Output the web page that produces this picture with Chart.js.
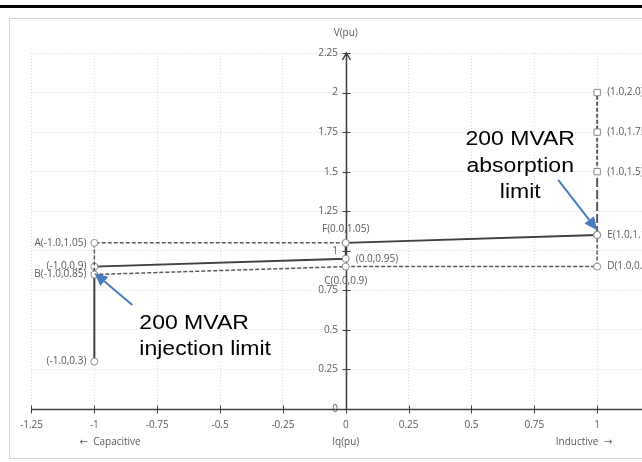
<!DOCTYPE html>
<html>
<head>
<meta charset="utf-8">
<script src="https://cdn.jsdelivr.net/npm/chart.js@4/dist/chart.umd.min.js"></script>
<style>
    html, body { margin: 0; padding: 0; background: #fff; overflow: hidden; width: 642px; height: 462px; }
    .rule { position: absolute; left: 0; top: 5px; width: 642px; height: 3px; background: #000; }
    .box { position: absolute; left: 9px; top: 18px; width: 700px; height: 441px; border: 1px solid #d4d4d4; box-sizing: border-box; }
    canvas { display: block; }
</style>
</head>
<body>
<div class="rule"></div>
<div class="box"><canvas id="pq" width="698" height="439" style="width:698px;height:439px"></canvas></div>
<script>
// operating characteristic
const iqSolid = [-1, -1, 0, 0, 1];
const vSolid = [0.3, 0.9, 0.95, 1.05, 1.1];

// dashed band  F -> A -> B -> C -> D -> E
const iqBand = [0, -1, -1, 0, 1, 1];
const vBand = [1.05, 1.05, 0.85, 0.9, 0.9, 1.1];

// absorption limit extension
const iqLimit = [1, 1, 1, 1];
const vLimit = [1.1, 1.5, 1.75, 2.0];

const xTicks = [-1.25, -1, -0.75, -0.5, -0.25, 0, 0.25, 0.5, 0.75, 1, 1.25];
const yTicks = [0, 0.25, 0.5, 0.75, 1, 1.25, 1.5, 1.75, 2, 2.25];

// point labels
const labelText = ['A(-1.0,1.05)', '(-1.0,0.9)', 'B(-1.0,0.85)', '(-1.0,0.3)', 'F(0.0,1.05)', '(0.0,0.95)', 'C(0.0,0.9)',
    '(1.0,2.0)', '(1.0,1.75)', '(1.0,1.5)', 'E(1.0,1.1)', 'D(1.0,0.9)'];
const labelIq = [-1, -1, -1, -1, 0, 0, 0, 1, 1, 1, 1, 1];
const labelV = [1.05, 0.9, 0.85, 0.3, 1.05, 0.95, 0.9, 2.0, 1.75, 1.5, 1.1, 0.9];
const labelSide = ['left', 'left', 'left', 'left', 'above', 'right', 'below', 'right', 'right', 'right', 'right', 'right'];

const toPts = (xs, ys) => xs.map((x, i) => ({ x: x, y: ys[i] }));

const GRAY_TXT = '#595959';
const AXIS = '#404040';
const SMALL = '10px "Open Sans"';

function arrow(ctx, x0, y0, x1, y1) {
    const a = Math.atan2(y1 - y0, x1 - x0), L = 13, W = 6;
    const bx = x1 - L * Math.cos(a), by = y1 - L * Math.sin(a);
    ctx.strokeStyle = '#4a7bbf';
    ctx.fillStyle = '#4a7bbf';
    ctx.lineWidth = 2;
    ctx.beginPath(); ctx.moveTo(x0, y0); ctx.lineTo(bx, by); ctx.stroke();
    ctx.beginPath();
    ctx.moveTo(x1, y1);
    ctx.lineTo(bx + W * Math.sin(a), by - W * Math.cos(a));
    ctx.lineTo(bx - W * Math.sin(a), by + W * Math.cos(a));
    ctx.closePath(); ctx.fill();
}

function wideText(ctx, s, x, y, align) {
    ctx.save();
    ctx.translate(x, y);
    ctx.scale(1.15, 1);
    ctx.textAlign = align;
    ctx.fillText(s, 0, 0);
    ctx.restore();
}

const decorations = {
    id: 'decorations',
    beforeDatasetsDraw(chart) {
        // solid axis lines with tick marks crossing them
        const ctx = chart.ctx;
        const xs = chart.scales.x, ys = chart.scales.y;
        const area = chart.chartArea;
        const ax = Math.round(xs.getPixelForValue(0)) + 0.5;
        const ay = Math.round(ys.getPixelForValue(0)) + 0.5;
        ctx.save();
        ctx.strokeStyle = AXIS;
        ctx.lineWidth = 1.5;
        ctx.beginPath();
        ctx.moveTo(area.left, ay); ctx.lineTo(area.right, ay);
        ctx.moveTo(ax, area.bottom); ctx.lineTo(ax, area.top);
        ctx.stroke();
        ctx.lineWidth = 1;
        ctx.beginPath();
        xTicks.forEach(v => { const p = Math.round(xs.getPixelForValue(v)) + 0.5; ctx.moveTo(p, ay - 4); ctx.lineTo(p, ay + 4); });
        yTicks.forEach(v => { const p = Math.round(ys.getPixelForValue(v)) + 0.5; ctx.moveTo(ax - 4, p); ctx.lineTo(ax + 4, p); });
        ctx.stroke();
        // arrow head on V axis
        ctx.lineWidth = 1.5;
        ctx.beginPath();
        ctx.moveTo(ax - 4, area.top + 7); ctx.lineTo(ax, area.top); ctx.lineTo(ax + 4, area.top + 7);
        ctx.stroke();
        ctx.restore();
    },
    afterDraw(chart) {
        const ctx = chart.ctx;
        const xs = chart.scales.x, ys = chart.scales.y;
        const area = chart.chartArea;
        const ax = xs.getPixelForValue(0);

        ctx.save();
        // axis titles
        ctx.fillStyle = GRAY_TXT;
        ctx.font = SMALL;
        ctx.textBaseline = 'middle';
        ctx.textAlign = 'center';
        ctx.fillText('V(pu)', ax, area.top - 20);
        ctx.fillText('Iq(pu)', ax, area.bottom + 33);
        ctx.font = '10px "DejaVu Sans"';
        ctx.textAlign = 'right';
        ctx.fillText('\u2190', xs.getPixelForValue(-0.93) - 24, area.bottom + 33);
        ctx.textAlign = 'left';
        ctx.fillText('\u2192', xs.getPixelForValue(0.94) + 22, area.bottom + 33);
        ctx.font = SMALL;
        ctx.textAlign = 'center';
        ctx.fillText('Capacitive', xs.getPixelForValue(-0.93) + 5, area.bottom + 33);
        ctx.fillText('Inductive', xs.getPixelForValue(0.94) - 5, area.bottom + 33);

        // point labels
        labelText.forEach((t, i) => {
            const px = xs.getPixelForValue(labelIq[i]);
            const py = ys.getPixelForValue(labelV[i]);
            const side = labelSide[i];
            if (side === 'left') { ctx.textAlign = 'right'; ctx.fillText(t, px - 8, py); }
            else if (side === 'right') { ctx.textAlign = 'left'; ctx.fillText(t, px + 10, py); }
            else if (side === 'above') { ctx.textAlign = 'center'; ctx.fillText(t, px, py - 14); }
            else { ctx.textAlign = 'center'; ctx.fillText(t, px, py + 15); }
        });

        // call-outs
        ctx.fillStyle = '#000';
        ctx.font = '20px "Liberation Sans", Arial, sans-serif';
        ctx.textBaseline = 'alphabetic';
        const cx = xs.getPixelForValue(0.694);
        wideText(ctx, '200 MVAR', cx, ys.getPixelForValue(1.669), 'center');
        wideText(ctx, 'absorption', cx, ys.getPixelForValue(1.498), 'center');
        wideText(ctx, 'limit', cx, ys.getPixelForValue(1.334), 'center');
        const lx = xs.getPixelForValue(-0.821);
        wideText(ctx, '200 MVAR', lx, ys.getPixelForValue(0.506), 'left');
        wideText(ctx, 'injection limit', lx, ys.getPixelForValue(0.341), 'left');

        arrow(ctx, xs.getPixelForValue(0.845), ys.getPixelForValue(1.448), xs.getPixelForValue(1.0), ys.getPixelForValue(1.13));
        arrow(ctx, xs.getPixelForValue(-0.849), ys.getPixelForValue(0.657), xs.getPixelForValue(-1.0), ys.getPixelForValue(0.86));
        ctx.restore();
    }
};

const pointStyle = {
    pointBackgroundColor: '#fff',
    pointBorderColor: '#8c8c8c',
    pointBorderWidth: 1,
    pointRadius: 3.5
};

new Chart(document.getElementById('pq'), {
    type: 'scatter',
    data: {
        datasets: [
            Object.assign({ data: toPts(iqBand, vBand), showLine: true, borderColor: '#595959', borderWidth: 1.5, borderDash: [4, 2] }, pointStyle),
            Object.assign({
                data: toPts(iqLimit, vLimit), showLine: true, borderColor: '#595959', borderWidth: 2,
                segment: { borderDash: c => c.p0DataIndex === 0 ? [9, 3] : [4, 2] }
            }, pointStyle, { pointStyle: ['circle', 'rect', 'rect', 'rect'], pointRadius: [3.5, 4.5, 4.5, 4.5] }),
            Object.assign({ data: toPts(iqSolid, vSolid), showLine: true, borderColor: '#404040', borderWidth: 2 }, pointStyle)
        ]
    },
    options: {
        responsive: false,
        animation: false,
        layout: { padding: { left: 21, top: 34, right: 48, bottom: 0 } },
        plugins: { legend: { display: false }, tooltip: { enabled: false } },
        scales: {
            x: {
                type: 'linear', position: 'bottom', min: -1.25, max: 1.25,
                afterBuildTicks: s => { s.ticks = xTicks.map(v => ({ value: v })); },
                afterFit: s => { s.height = 49; },
                grid: { color: '#d9d9d9', drawTicks: false },
                border: { display: false, dash: [1, 2] },
                ticks: { padding: 10, color: GRAY_TXT, font: { family: 'Open Sans', size: 10 }, maxRotation: 0, autoSkip: false, callback: v => String(v) }
            },
            y: {
                type: 'linear', position: { x: 0 }, min: 0, max: 2.25,
                afterBuildTicks: s => { s.ticks = yTicks.map(v => ({ value: v })); },
                grid: { color: '#d9d9d9', drawTicks: false },
                border: { display: false, dash: [1, 2] },
                // centre-positioned axis ignores padding, so pad the label text itself
                ticks: { color: GRAY_TXT, font: { family: 'Open Sans', size: 10 }, autoSkip: false, callback: v => String(v) + '   ' }
            }
        }
    },
    plugins: [decorations]
});
</script>
</body>
</html>
